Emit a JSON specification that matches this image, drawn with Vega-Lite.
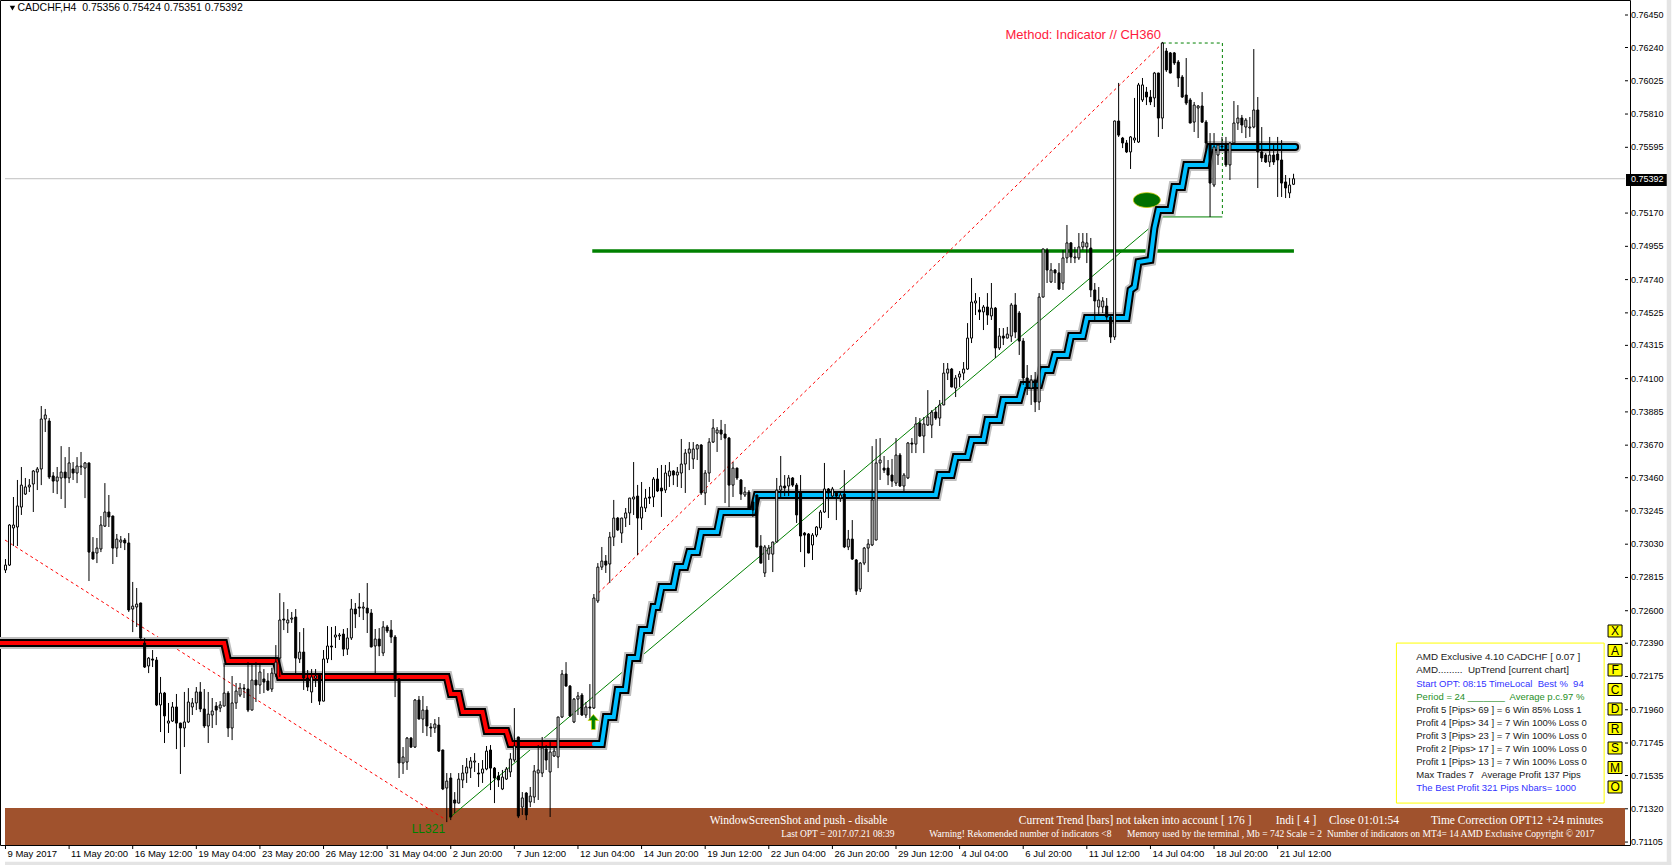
{
"$schema":"https://vega.github.io/schema/vega-lite/v6.json",
"width":1630,"height":845,
"autosize":{"type":"none"},
"padding":{"left":0,"top":0,"right":45,"bottom":20},
"background":"#ffffff",
"config":{"view":{"stroke":"#000000","strokeWidth":1},"font":"Liberation Sans"},
"data":{"values":[{}]},
"datasets":{
"candles":[
{"i":0,"o":0.72863,"h":0.72934,"l":0.72844,"c":0.72895},
{"i":1,"o":0.72895,"h":0.73160,"l":0.72889,"c":0.73154},
{"i":2,"o":0.73135,"h":0.73335,"l":0.73018,"c":0.73154},
{"i":3,"o":0.73141,"h":0.73445,"l":0.73018,"c":0.73277},
{"i":4,"o":0.73270,"h":0.73529,"l":0.73219,"c":0.73412},
{"i":5,"o":0.73354,"h":0.73458,"l":0.73348,"c":0.73400},
{"i":6,"o":0.73400,"h":0.73451,"l":0.73367,"c":0.73412},
{"i":7,"o":0.73419,"h":0.73509,"l":0.73238,"c":0.73503},
{"i":8,"o":0.73496,"h":0.73529,"l":0.73380,"c":0.73516},
{"i":9,"o":0.73516,"h":0.73923,"l":0.73412,"c":0.73839},
{"i":10,"o":0.73839,"h":0.73904,"l":0.73755,"c":0.73865},
{"i":11,"o":0.73826,"h":0.73845,"l":0.73451,"c":0.73464},
{"i":12,"o":0.73471,"h":0.73496,"l":0.73361,"c":0.73438},
{"i":13,"o":0.73438,"h":0.73529,"l":0.73354,"c":0.73464},
{"i":14,"o":0.73458,"h":0.73664,"l":0.73322,"c":0.73496},
{"i":15,"o":0.73496,"h":0.73593,"l":0.73264,"c":0.73458},
{"i":16,"o":0.73458,"h":0.73658,"l":0.73425,"c":0.73555},
{"i":17,"o":0.73516,"h":0.73561,"l":0.73445,"c":0.73490},
{"i":18,"o":0.73490,"h":0.73593,"l":0.73425,"c":0.73535},
{"i":19,"o":0.73529,"h":0.73626,"l":0.73477,"c":0.73535},
{"i":20,"o":0.73522,"h":0.73561,"l":0.73328,"c":0.73555},
{"i":21,"o":0.73555,"h":0.73557,"l":0.72792,"c":0.72979},
{"i":22,"o":0.72979,"h":0.73076,"l":0.72932,"c":0.72934},
{"i":23,"o":0.72973,"h":0.73070,"l":0.72908,"c":0.73005},
{"i":24,"o":0.72999,"h":0.73212,"l":0.72979,"c":0.73154},
{"i":25,"o":0.73147,"h":0.73425,"l":0.73141,"c":0.73238},
{"i":26,"o":0.73238,"h":0.73348,"l":0.73141,"c":0.73206},
{"i":27,"o":0.73212,"h":0.73215,"l":0.72902,"c":0.73005},
{"i":28,"o":0.73005,"h":0.73096,"l":0.72947,"c":0.73063},
{"i":29,"o":0.73044,"h":0.73083,"l":0.73005,"c":0.73057},
{"i":30,"o":0.73057,"h":0.73070,"l":0.72992,"c":0.73038},
{"i":31,"o":0.73038,"h":0.73102,"l":0.72592,"c":0.72605},
{"i":32,"o":0.72611,"h":0.72786,"l":0.72462,"c":0.72630},
{"i":33,"o":0.72624,"h":0.72747,"l":0.72495,"c":0.72643},
{"i":34,"o":0.72650,"h":0.72652,"l":0.72417,"c":0.72424},
{"i":35,"o":0.72391,"h":0.72424,"l":0.72230,"c":0.72236},
{"i":36,"o":0.72243,"h":0.72301,"l":0.72197,"c":0.72294},
{"i":37,"o":0.72288,"h":0.72346,"l":0.72236,"c":0.72281},
{"i":38,"o":0.72281,"h":0.72301,"l":0.71984,"c":0.71991},
{"i":39,"o":0.71991,"h":0.72172,"l":0.71816,"c":0.72068},
{"i":40,"o":0.72068,"h":0.72075,"l":0.71745,"c":0.71920},
{"i":41,"o":0.71874,"h":0.72004,"l":0.71810,"c":0.71887},
{"i":42,"o":0.71887,"h":0.72010,"l":0.71881,"c":0.71978},
{"i":43,"o":0.71978,"h":0.72062,"l":0.71706,"c":0.71874},
{"i":44,"o":0.71874,"h":0.71876,"l":0.71545,"c":0.71842},
{"i":45,"o":0.71842,"h":0.72075,"l":0.71719,"c":0.71881},
{"i":46,"o":0.71881,"h":0.72100,"l":0.71874,"c":0.72010},
{"i":47,"o":0.71978,"h":0.72036,"l":0.71926,"c":0.72004},
{"i":48,"o":0.72004,"h":0.72107,"l":0.71958,"c":0.72075},
{"i":49,"o":0.72075,"h":0.72139,"l":0.71945,"c":0.71965},
{"i":50,"o":0.71965,"h":0.72094,"l":0.71842,"c":0.71855},
{"i":51,"o":0.71855,"h":0.72075,"l":0.71745,"c":0.71932},
{"i":52,"o":0.71926,"h":0.72036,"l":0.71842,"c":0.71952},
{"i":53,"o":0.71984,"h":0.72010,"l":0.71861,"c":0.71958},
{"i":54,"o":0.71971,"h":0.72016,"l":0.71945,"c":0.71991},
{"i":55,"o":0.71984,"h":0.72262,"l":0.71982,"c":0.72068},
{"i":56,"o":0.72068,"h":0.72081,"l":0.71784,"c":0.71842},
{"i":57,"o":0.71842,"h":0.72178,"l":0.71764,"c":0.72004},
{"i":58,"o":0.72004,"h":0.72133,"l":0.71965,"c":0.72081},
{"i":59,"o":0.72055,"h":0.72133,"l":0.72042,"c":0.72100},
{"i":60,"o":0.72100,"h":0.72126,"l":0.72036,"c":0.72094},
{"i":61,"o":0.72094,"h":0.72268,"l":0.71945,"c":0.71958},
{"i":62,"o":0.71958,"h":0.72262,"l":0.71956,"c":0.72152},
{"i":63,"o":0.72152,"h":0.72268,"l":0.72010,"c":0.72120},
{"i":64,"o":0.72120,"h":0.72249,"l":0.72062,"c":0.72204},
{"i":65,"o":0.72159,"h":0.72223,"l":0.72068,"c":0.72139},
{"i":66,"o":0.72146,"h":0.72197,"l":0.72081,"c":0.72088},
{"i":67,"o":0.72094,"h":0.72230,"l":0.72075,"c":0.72197},
{"i":68,"o":0.72191,"h":0.72378,"l":0.72172,"c":0.72268},
{"i":69,"o":0.72294,"h":0.72714,"l":0.72172,"c":0.72540},
{"i":70,"o":0.72546,"h":0.72656,"l":0.72475,"c":0.72540},
{"i":71,"o":0.72521,"h":0.72611,"l":0.72456,"c":0.72540},
{"i":72,"o":0.72546,"h":0.72592,"l":0.72521,"c":0.72553},
{"i":73,"o":0.72559,"h":0.72611,"l":0.72197,"c":0.72294},
{"i":74,"o":0.72288,"h":0.72462,"l":0.72262,"c":0.72333},
{"i":75,"o":0.72333,"h":0.72488,"l":0.72088,"c":0.72165},
{"i":76,"o":0.72165,"h":0.72217,"l":0.72081,"c":0.72107},
{"i":77,"o":0.72075,"h":0.72223,"l":0.72004,"c":0.72172},
{"i":78,"o":0.72165,"h":0.72223,"l":0.72107,"c":0.72178},
{"i":79,"o":0.72184,"h":0.72197,"l":0.71991,"c":0.72016},
{"i":80,"o":0.72016,"h":0.72346,"l":0.72014,"c":0.72288},
{"i":81,"o":0.72288,"h":0.72501,"l":0.72262,"c":0.72372},
{"i":82,"o":0.72372,"h":0.72495,"l":0.72281,"c":0.72366},
{"i":83,"o":0.72430,"h":0.72501,"l":0.72359,"c":0.72443},
{"i":84,"o":0.72437,"h":0.72456,"l":0.72411,"c":0.72443},
{"i":85,"o":0.72449,"h":0.72482,"l":0.72307,"c":0.72352},
{"i":86,"o":0.72352,"h":0.72488,"l":0.72314,"c":0.72424},
{"i":87,"o":0.72424,"h":0.72676,"l":0.72411,"c":0.72611},
{"i":88,"o":0.72611,"h":0.72650,"l":0.72488,"c":0.72579},
{"i":89,"o":0.72624,"h":0.72714,"l":0.72559,"c":0.72617},
{"i":90,"o":0.72617,"h":0.72656,"l":0.72540,"c":0.72624},
{"i":91,"o":0.72617,"h":0.72779,"l":0.72456,"c":0.72585},
{"i":92,"o":0.72585,"h":0.72611,"l":0.72363,"c":0.72366},
{"i":93,"o":0.72372,"h":0.72482,"l":0.72197,"c":0.72417},
{"i":94,"o":0.72417,"h":0.72488,"l":0.72307,"c":0.72372},
{"i":95,"o":0.72327,"h":0.72533,"l":0.72307,"c":0.72495},
{"i":96,"o":0.72495,"h":0.72508,"l":0.72456,"c":0.72469},
{"i":97,"o":0.72475,"h":0.72540,"l":0.72391,"c":0.72430},
{"i":98,"o":0.72430,"h":0.72443,"l":0.72042,"c":0.72159},
{"i":99,"o":0.72159,"h":0.72161,"l":0.71519,"c":0.71616},
{"i":100,"o":0.71616,"h":0.71719,"l":0.71545,"c":0.71655},
{"i":101,"o":0.71622,"h":0.71784,"l":0.71571,"c":0.71777},
{"i":102,"o":0.71777,"h":0.71784,"l":0.71713,"c":0.71719},
{"i":103,"o":0.71719,"h":0.72029,"l":0.71713,"c":0.72023},
{"i":104,"o":0.72023,"h":0.72049,"l":0.71898,"c":0.71900},
{"i":105,"o":0.71900,"h":0.72049,"l":0.71810,"c":0.71958},
{"i":106,"o":0.71958,"h":0.71984,"l":0.71790,"c":0.71855},
{"i":107,"o":0.71848,"h":0.71874,"l":0.71784,"c":0.71842},
{"i":108,"o":0.71842,"h":0.71900,"l":0.71810,"c":0.71868},
{"i":109,"o":0.71861,"h":0.71913,"l":0.71687,"c":0.71693},
{"i":110,"o":0.71700,"h":0.71702,"l":0.71441,"c":0.71448},
{"i":111,"o":0.71454,"h":0.71551,"l":0.71234,"c":0.71499},
{"i":112,"o":0.71519,"h":0.71551,"l":0.71247,"c":0.71267},
{"i":113,"o":0.71377,"h":0.71428,"l":0.71293,"c":0.71357},
{"i":114,"o":0.71357,"h":0.71551,"l":0.71355,"c":0.71512},
{"i":115,"o":0.71506,"h":0.71603,"l":0.71454,"c":0.71551},
{"i":116,"o":0.71551,"h":0.71648,"l":0.71487,"c":0.71590},
{"i":117,"o":0.71583,"h":0.71655,"l":0.71519,"c":0.71629},
{"i":118,"o":0.71622,"h":0.71680,"l":0.71558,"c":0.71629},
{"i":119,"o":0.71551,"h":0.71616,"l":0.71461,"c":0.71545},
{"i":120,"o":0.71551,"h":0.71635,"l":0.71487,"c":0.71577},
{"i":121,"o":0.71577,"h":0.71726,"l":0.71569,"c":0.71693},
{"i":122,"o":0.71700,"h":0.71732,"l":0.71441,"c":0.71583},
{"i":123,"o":0.71583,"h":0.71590,"l":0.71357,"c":0.71519},
{"i":124,"o":0.71532,"h":0.71558,"l":0.71461,"c":0.71506},
{"i":125,"o":0.71448,"h":0.71571,"l":0.71441,"c":0.71525},
{"i":126,"o":0.71512,"h":0.71590,"l":0.71506,"c":0.71577},
{"i":127,"o":0.71558,"h":0.71680,"l":0.71525,"c":0.71642},
{"i":128,"o":0.71635,"h":0.71971,"l":0.71622,"c":0.71726},
{"i":129,"o":0.71784,"h":0.71786,"l":0.71260,"c":0.71273},
{"i":130,"o":0.71331,"h":0.71428,"l":0.71280,"c":0.71390},
{"i":131,"o":0.71422,"h":0.71428,"l":0.71247,"c":0.71280},
{"i":132,"o":0.71364,"h":0.71461,"l":0.71331,"c":0.71402},
{"i":133,"o":0.71396,"h":0.71603,"l":0.71357,"c":0.71564},
{"i":134,"o":0.71551,"h":0.71732,"l":0.71377,"c":0.71571},
{"i":135,"o":0.71551,"h":0.71784,"l":0.71525,"c":0.71713},
{"i":136,"o":0.71706,"h":0.71732,"l":0.71571,"c":0.71635},
{"i":137,"o":0.71558,"h":0.71751,"l":0.71267,"c":0.71687},
{"i":138,"o":0.71661,"h":0.71719,"l":0.71655,"c":0.71693},
{"i":139,"o":0.71655,"h":0.71915,"l":0.71583,"c":0.71913},
{"i":140,"o":0.71913,"h":0.72217,"l":0.71907,"c":0.72191},
{"i":141,"o":0.72191,"h":0.72268,"l":0.72111,"c":0.72113},
{"i":142,"o":0.72113,"h":0.72120,"l":0.71913,"c":0.71920},
{"i":143,"o":0.71881,"h":0.72036,"l":0.71874,"c":0.72029},
{"i":144,"o":0.72029,"h":0.72075,"l":0.71926,"c":0.72049},
{"i":145,"o":0.72055,"h":0.72068,"l":0.71920,"c":0.71926},
{"i":146,"o":0.71926,"h":0.72010,"l":0.71907,"c":0.71978},
{"i":147,"o":0.71978,"h":0.72126,"l":0.71894,"c":0.71971},
{"i":148,"o":0.71971,"h":0.72708,"l":0.71965,"c":0.72682},
{"i":149,"o":0.72663,"h":0.72908,"l":0.72650,"c":0.72882},
{"i":150,"o":0.72882,"h":0.73012,"l":0.72863,"c":0.72921},
{"i":151,"o":0.72921,"h":0.72960,"l":0.72844,"c":0.72895},
{"i":152,"o":0.72902,"h":0.73109,"l":0.72779,"c":0.73076},
{"i":153,"o":0.73076,"h":0.73316,"l":0.73018,"c":0.73199},
{"i":154,"o":0.73199,"h":0.73206,"l":0.73115,"c":0.73122},
{"i":155,"o":0.73102,"h":0.73201,"l":0.73038,"c":0.73199},
{"i":156,"o":0.73199,"h":0.73264,"l":0.73141,"c":0.73232},
{"i":157,"o":0.73232,"h":0.73330,"l":0.73154,"c":0.73328},
{"i":158,"o":0.73322,"h":0.73561,"l":0.73219,"c":0.73335},
{"i":159,"o":0.73341,"h":0.73413,"l":0.72960,"c":0.73199},
{"i":160,"o":0.73199,"h":0.73432,"l":0.73122,"c":0.73270},
{"i":161,"o":0.73264,"h":0.73387,"l":0.73238,"c":0.73328},
{"i":162,"o":0.73335,"h":0.73400,"l":0.73290,"c":0.73328},
{"i":163,"o":0.73335,"h":0.73464,"l":0.73270,"c":0.73451},
{"i":164,"o":0.73451,"h":0.73522,"l":0.73367,"c":0.73374},
{"i":165,"o":0.73393,"h":0.73542,"l":0.73206,"c":0.73374},
{"i":166,"o":0.73380,"h":0.73542,"l":0.73361,"c":0.73490},
{"i":167,"o":0.73471,"h":0.73561,"l":0.73400,"c":0.73503},
{"i":168,"o":0.73503,"h":0.73509,"l":0.73412,"c":0.73477},
{"i":169,"o":0.73477,"h":0.73529,"l":0.73400,"c":0.73496},
{"i":170,"o":0.73490,"h":0.73710,"l":0.73393,"c":0.73548},
{"i":171,"o":0.73548,"h":0.73645,"l":0.73361,"c":0.73619},
{"i":172,"o":0.73619,"h":0.73690,"l":0.73509,"c":0.73645},
{"i":173,"o":0.73581,"h":0.73690,"l":0.73516,"c":0.73645},
{"i":174,"o":0.73645,"h":0.73677,"l":0.73574,"c":0.73671},
{"i":175,"o":0.73671,"h":0.73677,"l":0.73348,"c":0.73361},
{"i":176,"o":0.73361,"h":0.73509,"l":0.73283,"c":0.73490},
{"i":177,"o":0.73490,"h":0.73716,"l":0.73432,"c":0.73690},
{"i":178,"o":0.73690,"h":0.73839,"l":0.73684,"c":0.73781},
{"i":179,"o":0.73748,"h":0.73787,"l":0.73626,"c":0.73768},
{"i":180,"o":0.73768,"h":0.73833,"l":0.73703,"c":0.73742},
{"i":181,"o":0.73742,"h":0.73807,"l":0.73296,"c":0.73716},
{"i":182,"o":0.73716,"h":0.73723,"l":0.73270,"c":0.73412},
{"i":183,"o":0.73412,"h":0.73561,"l":0.73335,"c":0.73522},
{"i":184,"o":0.73522,"h":0.73524,"l":0.73445,"c":0.73458},
{"i":185,"o":0.73445,"h":0.73451,"l":0.73316,"c":0.73354},
{"i":186,"o":0.73348,"h":0.73400,"l":0.73335,"c":0.73367},
{"i":187,"o":0.73367,"h":0.73380,"l":0.73251,"c":0.73264},
{"i":188,"o":0.73303,"h":0.73316,"l":0.73206,"c":0.73251},
{"i":189,"o":0.73348,"h":0.73350,"l":0.73010,"c":0.73012},
{"i":190,"o":0.73018,"h":0.73089,"l":0.72906,"c":0.72908},
{"i":191,"o":0.72844,"h":0.73025,"l":0.72818,"c":0.73012},
{"i":192,"o":0.72966,"h":0.73025,"l":0.72928,"c":0.73005},
{"i":193,"o":0.72966,"h":0.73046,"l":0.72850,"c":0.73044},
{"i":194,"o":0.73044,"h":0.73458,"l":0.73042,"c":0.73380},
{"i":195,"o":0.73380,"h":0.73600,"l":0.73335,"c":0.73406},
{"i":196,"o":0.73406,"h":0.73477,"l":0.73341,"c":0.73393},
{"i":197,"o":0.73406,"h":0.73477,"l":0.73341,"c":0.73458},
{"i":198,"o":0.73458,"h":0.73464,"l":0.73400,"c":0.73412},
{"i":199,"o":0.73412,"h":0.73425,"l":0.73167,"c":0.73219},
{"i":200,"o":0.73367,"h":0.73477,"l":0.72979,"c":0.73083},
{"i":201,"o":0.73102,"h":0.73109,"l":0.72882,"c":0.73089},
{"i":202,"o":0.73096,"h":0.73102,"l":0.72971,"c":0.72973},
{"i":203,"o":0.73025,"h":0.73102,"l":0.72928,"c":0.73089},
{"i":204,"o":0.73089,"h":0.73147,"l":0.73076,"c":0.73141},
{"i":205,"o":0.73135,"h":0.73251,"l":0.73122,"c":0.73238},
{"i":206,"o":0.73238,"h":0.73555,"l":0.73232,"c":0.73387},
{"i":207,"o":0.73387,"h":0.73393,"l":0.73199,"c":0.73361},
{"i":208,"o":0.73341,"h":0.73400,"l":0.73328,"c":0.73387},
{"i":209,"o":0.73361,"h":0.73367,"l":0.73186,"c":0.73341},
{"i":210,"o":0.73328,"h":0.73361,"l":0.73303,"c":0.73348},
{"i":211,"o":0.73354,"h":0.73509,"l":0.73005,"c":0.73012},
{"i":212,"o":0.73012,"h":0.73122,"l":0.72992,"c":0.73063},
{"i":213,"o":0.73063,"h":0.73186,"l":0.72928,"c":0.72934},
{"i":214,"o":0.72928,"h":0.72934,"l":0.72702,"c":0.72727},
{"i":215,"o":0.72740,"h":0.72915,"l":0.72721,"c":0.72908},
{"i":216,"o":0.72908,"h":0.73012,"l":0.72895,"c":0.73005},
{"i":217,"o":0.73005,"h":0.73063,"l":0.72850,"c":0.73031},
{"i":218,"o":0.73025,"h":0.73664,"l":0.73018,"c":0.73316},
{"i":219,"o":0.73057,"h":0.73710,"l":0.73055,"c":0.73555},
{"i":220,"o":0.73555,"h":0.73716,"l":0.73445,"c":0.73574},
{"i":221,"o":0.73522,"h":0.73600,"l":0.73490,"c":0.73509},
{"i":222,"o":0.73522,"h":0.73574,"l":0.73412,"c":0.73477},
{"i":223,"o":0.73477,"h":0.73581,"l":0.73400,"c":0.73438},
{"i":224,"o":0.73425,"h":0.73716,"l":0.73406,"c":0.73606},
{"i":225,"o":0.73606,"h":0.73619,"l":0.73400,"c":0.73406},
{"i":226,"o":0.73406,"h":0.73490,"l":0.73361,"c":0.73477},
{"i":227,"o":0.73458,"h":0.73690,"l":0.73451,"c":0.73684},
{"i":228,"o":0.73684,"h":0.73716,"l":0.73619,"c":0.73677},
{"i":229,"o":0.73677,"h":0.73852,"l":0.73619,"c":0.73807},
{"i":230,"o":0.73813,"h":0.73845,"l":0.73723,"c":0.73729},
{"i":231,"o":0.73729,"h":0.73852,"l":0.73619,"c":0.73807},
{"i":232,"o":0.73800,"h":0.74026,"l":0.73794,"c":0.73852},
{"i":233,"o":0.73800,"h":0.73897,"l":0.73716,"c":0.73884},
{"i":234,"o":0.73884,"h":0.73917,"l":0.73833,"c":0.73845},
{"i":235,"o":0.73845,"h":0.73962,"l":0.73794,"c":0.73930},
{"i":236,"o":0.73930,"h":0.74201,"l":0.73928,"c":0.74136},
{"i":237,"o":0.74136,"h":0.74201,"l":0.74091,"c":0.74162},
{"i":238,"o":0.74162,"h":0.74169,"l":0.74044,"c":0.74046},
{"i":239,"o":0.74039,"h":0.74123,"l":0.73981,"c":0.74104},
{"i":240,"o":0.74110,"h":0.74149,"l":0.74046,"c":0.74130},
{"i":241,"o":0.74136,"h":0.74207,"l":0.74091,"c":0.74162},
{"i":242,"o":0.74162,"h":0.74459,"l":0.74156,"c":0.74362},
{"i":243,"o":0.74362,"h":0.74750,"l":0.74330,"c":0.74595},
{"i":244,"o":0.74589,"h":0.74653,"l":0.74511,"c":0.74602},
{"i":245,"o":0.74544,"h":0.74627,"l":0.74479,"c":0.74531},
{"i":246,"o":0.74531,"h":0.74576,"l":0.74414,"c":0.74563},
{"i":247,"o":0.74563,"h":0.74653,"l":0.74447,"c":0.74511},
{"i":248,"o":0.74505,"h":0.74718,"l":0.74479,"c":0.74556},
{"i":249,"o":0.74556,"h":0.74563,"l":0.74233,"c":0.74298},
{"i":250,"o":0.74298,"h":0.74427,"l":0.74285,"c":0.74375},
{"i":251,"o":0.74375,"h":0.74427,"l":0.74317,"c":0.74362},
{"i":252,"o":0.74362,"h":0.74434,"l":0.74360,"c":0.74388},
{"i":253,"o":0.74375,"h":0.74589,"l":0.74337,"c":0.74576},
{"i":254,"o":0.74576,"h":0.74653,"l":0.74362,"c":0.74401},
{"i":255,"o":0.74524,"h":0.74537,"l":0.74253,"c":0.74343},
{"i":256,"o":0.74343,"h":0.74362,"l":0.74059,"c":0.74104},
{"i":257,"o":0.74104,"h":0.74188,"l":0.73994,"c":0.74039},
{"i":258,"o":0.74039,"h":0.74123,"l":0.73930,"c":0.74091},
{"i":259,"o":0.74091,"h":0.74143,"l":0.73884,"c":0.73949},
{"i":260,"o":0.73949,"h":0.74653,"l":0.73897,"c":0.74627},
{"i":261,"o":0.74627,"h":0.74940,"l":0.74625,"c":0.74938},
{"i":262,"o":0.74931,"h":0.74944,"l":0.74718,"c":0.74802},
{"i":263,"o":0.74725,"h":0.74847,"l":0.74718,"c":0.74802},
{"i":264,"o":0.74802,"h":0.74808,"l":0.74718,"c":0.74783},
{"i":265,"o":0.74783,"h":0.74847,"l":0.74673,"c":0.74679},
{"i":266,"o":0.74718,"h":0.74931,"l":0.74673,"c":0.74880},
{"i":267,"o":0.74880,"h":0.75093,"l":0.74847,"c":0.74977},
{"i":268,"o":0.74977,"h":0.74983,"l":0.74847,"c":0.74886},
{"i":269,"o":0.74880,"h":0.74951,"l":0.74847,"c":0.74886},
{"i":270,"o":0.74880,"h":0.75041,"l":0.74867,"c":0.74951},
{"i":271,"o":0.74951,"h":0.75041,"l":0.74931,"c":0.74983},
{"i":272,"o":0.74951,"h":0.75041,"l":0.74847,"c":0.74977},
{"i":273,"o":0.74944,"h":0.75009,"l":0.74627,"c":0.74673},
{"i":274,"o":0.74673,"h":0.74718,"l":0.74479,"c":0.74602},
{"i":275,"o":0.74563,"h":0.74692,"l":0.74511,"c":0.74608},
{"i":276,"o":0.74563,"h":0.74627,"l":0.74524,"c":0.74602},
{"i":277,"o":0.74569,"h":0.74621,"l":0.74479,"c":0.74498},
{"i":278,"o":0.74498,"h":0.74511,"l":0.74330,"c":0.74369},
{"i":279,"o":0.74369,"h":0.75768,"l":0.74350,"c":0.75765},
{"i":280,"o":0.75765,"h":0.76011,"l":0.75662,"c":0.75674},
{"i":281,"o":0.75655,"h":0.75662,"l":0.75590,"c":0.75623},
{"i":282,"o":0.75623,"h":0.75642,"l":0.75558,"c":0.75565},
{"i":283,"o":0.75565,"h":0.75668,"l":0.75455,"c":0.75662},
{"i":284,"o":0.75642,"h":0.75914,"l":0.75623,"c":0.75655},
{"i":285,"o":0.75629,"h":0.76011,"l":0.75623,"c":0.75998},
{"i":286,"o":0.75901,"h":0.76043,"l":0.75888,"c":0.75998},
{"i":287,"o":0.75952,"h":0.75985,"l":0.75868,"c":0.75920},
{"i":288,"o":0.75920,"h":0.75965,"l":0.75868,"c":0.75888},
{"i":289,"o":0.75914,"h":0.76082,"l":0.75855,"c":0.76075},
{"i":290,"o":0.76075,"h":0.76077,"l":0.75662,"c":0.75784},
{"i":291,"o":0.75784,"h":0.76276,"l":0.75713,"c":0.76269},
{"i":292,"o":0.76217,"h":0.76237,"l":0.76082,"c":0.76095},
{"i":293,"o":0.76205,"h":0.76211,"l":0.76073,"c":0.76075},
{"i":294,"o":0.76205,"h":0.76211,"l":0.76127,"c":0.76140},
{"i":295,"o":0.76146,"h":0.76159,"l":0.75985,"c":0.76043},
{"i":296,"o":0.76049,"h":0.76062,"l":0.75914,"c":0.75920},
{"i":297,"o":0.75933,"h":0.76172,"l":0.75868,"c":0.75881},
{"i":298,"o":0.75901,"h":0.75914,"l":0.75750,"c":0.75752},
{"i":299,"o":0.75758,"h":0.75888,"l":0.75694,"c":0.75868},
{"i":300,"o":0.75849,"h":0.75868,"l":0.75655,"c":0.75862},
{"i":301,"o":0.75862,"h":0.75952,"l":0.75752,"c":0.75758},
{"i":302,"o":0.75758,"h":0.75771,"l":0.75578,"c":0.75623},
{"i":303,"o":0.75610,"h":0.75687,"l":0.75145,"c":0.75364},
{"i":304,"o":0.75351,"h":0.75687,"l":0.75338,"c":0.75597},
{"i":305,"o":0.75545,"h":0.75623,"l":0.75481,"c":0.75610},
{"i":306,"o":0.75603,"h":0.75662,"l":0.75578,"c":0.75597},
{"i":307,"o":0.75610,"h":0.75662,"l":0.75468,"c":0.75481},
{"i":308,"o":0.75481,"h":0.75629,"l":0.75384,"c":0.75623},
{"i":309,"o":0.75623,"h":0.75894,"l":0.75610,"c":0.75752},
{"i":310,"o":0.75752,"h":0.75868,"l":0.75707,"c":0.75784},
{"i":311,"o":0.75784,"h":0.75804,"l":0.75687,"c":0.75739},
{"i":312,"o":0.75726,"h":0.75784,"l":0.75655,"c":0.75771},
{"i":313,"o":0.75720,"h":0.75791,"l":0.75662,"c":0.75726},
{"i":314,"o":0.75726,"h":0.76230,"l":0.75718,"c":0.75836},
{"i":315,"o":0.75836,"h":0.75920,"l":0.75332,"c":0.75565},
{"i":316,"o":0.75565,"h":0.75726,"l":0.75500,"c":0.75526},
{"i":317,"o":0.75545,"h":0.75558,"l":0.75494,"c":0.75500},
{"i":318,"o":0.75500,"h":0.75662,"l":0.75468,"c":0.75545},
{"i":319,"o":0.75545,"h":0.75623,"l":0.75481,"c":0.75500},
{"i":320,"o":0.75552,"h":0.75662,"l":0.75274,"c":0.75513},
{"i":321,"o":0.75513,"h":0.75642,"l":0.75274,"c":0.75364},
{"i":322,"o":0.75371,"h":0.75416,"l":0.75267,"c":0.75332},
{"i":323,"o":0.75300,"h":0.75397,"l":0.75267,"c":0.75351},
{"i":324,"o":0.75356,"h":0.75424,"l":0.75351,"c":0.75392}
],
"band":[
{"i":-2,"p":0.72391,"s":"r"},{"i":55,"p":0.72391,"s":"r"},{"i":56,"p":0.72275,"s":"r"},{"i":68,"p":0.72275,"s":"r"},{"i":69,"p":0.72172,"s":"r"},{"i":111,"p":0.72172,"s":"r"},{"i":112,"p":0.72062,"s":"r"},{"i":114,"p":0.72062,"s":"r"},{"i":115,"p":0.71945,"s":"r"},{"i":120,"p":0.71945,"s":"r"},{"i":121,"p":0.71823,"s":"r"},{"i":126,"p":0.71823,"s":"r"},{"i":127,"p":0.71739,"s":"r"},{"i":148,"p":0.71739,"s":"r"},
{"i":148,"p":0.71739,"s":"b"},{"i":150,"p":0.71739,"s":"b"},{"i":151,"p":0.71913,"s":"b"},{"i":153,"p":0.71913,"s":"b"},{"i":154,"p":0.72088,"s":"b"},{"i":156,"p":0.72088,"s":"b"},{"i":157,"p":0.72294,"s":"b"},{"i":159,"p":0.72294,"s":"b"},{"i":160,"p":0.72475,"s":"b"},{"i":162,"p":0.72475,"s":"b"},{"i":163,"p":0.72624,"s":"b"},{"i":164,"p":0.72624,"s":"b"},{"i":165,"p":0.72753,"s":"b"},{"i":168,"p":0.72753,"s":"b"},{"i":169,"p":0.72883,"s":"b"},{"i":171,"p":0.72883,"s":"b"},{"i":172,"p":0.72979,"s":"b"},{"i":174,"p":0.72979,"s":"b"},{"i":175,"p":0.73109,"s":"b"},{"i":179,"p":0.73109,"s":"b"},{"i":180,"p":0.73238,"s":"b"},{"i":188,"p":0.73238,"s":"b"},{"i":189,"p":0.73348,"s":"b"},{"i":234,"p":0.73348,"s":"b"},{"i":235,"p":0.73477,"s":"b"},{"i":238,"p":0.73477,"s":"b"},{"i":239,"p":0.73593,"s":"b"},{"i":242,"p":0.73593,"s":"b"},{"i":243,"p":0.73703,"s":"b"},{"i":246,"p":0.73703,"s":"b"},{"i":247,"p":0.73833,"s":"b"},{"i":250,"p":0.73833,"s":"b"},{"i":251,"p":0.73962,"s":"b"},{"i":255,"p":0.73962,"s":"b"},{"i":256,"p":0.74059,"s":"b"},{"i":260,"p":0.74059,"s":"b"},{"i":261,"p":0.74156,"s":"b"},{"i":263,"p":0.74156,"s":"b"},{"i":264,"p":0.74253,"s":"b"},{"i":267,"p":0.74253,"s":"b"},{"i":268,"p":0.74375,"s":"b"},{"i":271,"p":0.74375,"s":"b"},{"i":272,"p":0.74492,"s":"b"},{"i":282,"p":0.74492,"s":"b"},{"i":283,"p":0.74673,"s":"b"},{"i":284,"p":0.74692,"s":"b"},{"i":285,"p":0.74854,"s":"b"},{"i":288,"p":0.74867,"s":"b"},{"i":289,"p":0.75073,"s":"b"},{"i":290,"p":0.75190,"s":"b"},{"i":293,"p":0.75190,"s":"b"},{"i":294,"p":0.75338,"s":"b"},{"i":296,"p":0.75338,"s":"b"},{"i":297,"p":0.75481,"s":"b"},{"i":302,"p":0.75481,"s":"b"},{"i":303,"p":0.75597,"s":"b"},{"i":324.4,"p":0.75597,"s":"b"}
],
"lines":[
{"k":"cp","i":-0.125,"p":0.75392,"i2":407.375,"p2":0.75392},
{"k":"rd","i":-0.125,"p":0.73057,"i2":110.7,"p2":0.71250},
{"k":"rd","i":149.1,"p":0.72714,"i2":291.1,"p2":0.76269},
{"k":"g","i":111.6,"p":0.71260,"i2":291.1,"p2":0.75145},
{"k":"g","i":291.1,"p":0.75145,"i2":306.1,"p2":0.75145},
{"k":"gd","i":291.1,"p":0.76269,"i2":306.1,"p2":0.76269},
{"k":"gd","i":306.1,"p":0.76269,"i2":306.1,"p2":0.75145},
{"k":"gt","i":147.6,"p":0.74925,"i2":324.1,"p2":0.74925}
],
"yt":[{"v":0.7645,"t":"0.76450"},{"v":0.7624,"t":"0.76240"},{"v":0.76025,"t":"0.76025"},{"v":0.7581,"t":"0.75810"},{"v":0.75595,"t":"0.75595"},{"v":0.7517,"t":"0.75170"},{"v":0.74955,"t":"0.74955"},{"v":0.7474,"t":"0.74740"},{"v":0.74525,"t":"0.74525"},{"v":0.74315,"t":"0.74315"},{"v":0.741,"t":"0.74100"},{"v":0.73885,"t":"0.73885"},{"v":0.7367,"t":"0.73670"},{"v":0.7346,"t":"0.73460"},{"v":0.73245,"t":"0.73245"},{"v":0.7303,"t":"0.73030"},{"v":0.72815,"t":"0.72815"},{"v":0.726,"t":"0.72600"},{"v":0.7239,"t":"0.72390"},{"v":0.72175,"t":"0.72175"},{"v":0.7196,"t":"0.71960"},{"v":0.71745,"t":"0.71745"},{"v":0.71535,"t":"0.71535"},{"v":0.7132,"t":"0.71320"},{"v":0.71105,"t":"0.71105"}],
"xt":[{"i":0,"t":"9 May 2017"},{"i":16,"t":"11 May 20:00"},{"i":32,"t":"16 May 12:00"},{"i":48,"t":"19 May 04:00"},{"i":64,"t":"23 May 20:00"},{"i":80,"t":"26 May 12:00"},{"i":96,"t":"31 May 04:00"},{"i":112,"t":"2 Jun 20:00"},{"i":128,"t":"7 Jun 12:00"},{"i":144,"t":"12 Jun 04:00"},{"i":160,"t":"14 Jun 20:00"},{"i":176,"t":"19 Jun 12:00"},{"i":192,"t":"22 Jun 04:00"},{"i":208,"t":"26 Jun 20:00"},{"i":224,"t":"29 Jun 12:00"},{"i":240,"t":"4 Jul 04:00"},{"i":256,"t":"6 Jul 20:00"},{"i":272,"t":"11 Jul 12:00"},{"i":288,"t":"14 Jul 04:00"},{"i":304,"t":"18 Jul 20:00"},{"i":320,"t":"21 Jul 12:00"}]
},
"layer":[
{"mark":{"type":"rect","fill":"#a0522d"},
 "encoding":{"x":{"datum":-0.125,"type":"quantitative","scale":{"domain":[-0.125,407.375],"nice":false,"zero":false},"axis":null},
 "x2":{"datum":407.375},
 "y":{"datum":0.71325,"type":"quantitative","scale":{"domain":[0.71086,0.76547],"nice":false,"zero":false},"axis":null},
 "y2":{"datum":0.71086}}},
{"mark":{"type":"rect","fill":"#e4e4e4"},
 "encoding":{"x":{"datum":417.875,"type":"quantitative","scale":{"domain":[-0.125,407.375],"nice":false,"zero":false},"axis":null},
 "x2":{"datum":419},
 "y":{"datum":0.76547,"type":"quantitative","scale":{"domain":[0.71086,0.76547],"nice":false,"zero":false},"axis":null},
 "y2":{"datum":0.7093}}},
{"mark":{"type":"rect","fill":"#e4e4e4"},
 "encoding":{"x":{"datum":-0.125,"type":"quantitative","scale":{"domain":[-0.125,407.375],"nice":false,"zero":false},"axis":null},
 "x2":{"datum":419},
 "y":{"datum":0.70977,"type":"quantitative","scale":{"domain":[0.71086,0.76547],"nice":false,"zero":false},"axis":null},
 "y2":{"datum":0.7093}}},
{"data":{"name":"yt"},
 "mark":{"type":"rule","color":"#000000","strokeWidth":1},
 "encoding":{"x":{"datum":407.375,"type":"quantitative","scale":{"domain":[-0.125,407.375],"nice":false,"zero":false},"axis":null},
 "x2":{"datum":408.125},
 "y":{"field":"v","type":"quantitative","scale":{"domain":[0.71086,0.76547],"nice":false,"zero":false},"axis":null}}},
{"data":{"name":"yt"},
 "mark":{"type":"text","align":"left","baseline":"middle","font":"Liberation Sans","fontSize":9,"color":"#000000"},
 "encoding":{"x":{"datum":408.875,"type":"quantitative","scale":{"domain":[-0.125,407.375],"nice":false,"zero":false},"axis":null},
 "y":{"field":"v","type":"quantitative","scale":{"domain":[0.71086,0.76547],"nice":false,"zero":false},"axis":null},
 "text":{"field":"t"}}},
{"data":{"name":"xt"},
 "mark":{"type":"rule","color":"#000000","strokeWidth":1},
 "encoding":{"x":{"field":"i","type":"quantitative","scale":{"domain":[-0.125,407.375],"nice":false,"zero":false},"axis":null},
 "y":{"datum":0.71086,"type":"quantitative","scale":{"domain":[0.71086,0.76547],"nice":false,"zero":false},"axis":null},
 "y2":{"datum":0.7106}}},
{"data":{"name":"xt"},
 "mark":{"type":"text","align":"left","baseline":"middle","dx":2,"font":"Liberation Sans","fontSize":9.5,"color":"#000000"},
 "encoding":{"x":{"field":"i","type":"quantitative","scale":{"domain":[-0.125,407.375],"nice":false,"zero":false},"axis":null},
 "y":{"datum":0.71028,"type":"quantitative","scale":{"domain":[0.71086,0.76547],"nice":false,"zero":false},"axis":null},
 "text":{"field":"t"}}},
{"data":{"name":"lines"},"transform":[{"filter":"datum.k == 'cp'"}],
 "mark":{"type":"rule","color":"#c0c0c0","strokeWidth":1},
 "encoding":{"x":{"field":"i","type":"quantitative","scale":{"domain":[-0.125,407.375],"nice":false,"zero":false},"axis":null},"x2":{"field":"i2"},
 "y":{"field":"p","type":"quantitative","scale":{"domain":[0.71086,0.76547],"nice":false,"zero":false},"axis":null},"y2":{"field":"p2"}}},
{"data":{"name":"lines"},"transform":[{"filter":"datum.k == 'gt'"}],
 "mark":{"type":"rule","color":"#008000","strokeWidth":3.5},
 "encoding":{"x":{"field":"i","type":"quantitative","scale":{"domain":[-0.125,407.375],"nice":false,"zero":false},"axis":null},"x2":{"field":"i2"},
 "y":{"field":"p","type":"quantitative","scale":{"domain":[0.71086,0.76547],"nice":false,"zero":false},"axis":null},"y2":{"field":"p2"}}},
{"data":{"name":"lines"},"transform":[{"filter":"datum.k == 'rd'"}],
 "mark":{"type":"rule","color":"#ff0000","strokeWidth":1,"strokeDash":[3,3]},
 "encoding":{"x":{"field":"i","type":"quantitative","scale":{"domain":[-0.125,407.375],"nice":false,"zero":false},"axis":null},"x2":{"field":"i2"},
 "y":{"field":"p","type":"quantitative","scale":{"domain":[0.71086,0.76547],"nice":false,"zero":false},"axis":null},"y2":{"field":"p2"}}},
{"data":{"name":"lines"},"transform":[{"filter":"datum.k == 'g'"}],
 "mark":{"type":"rule","color":"#008000","strokeWidth":1},
 "encoding":{"x":{"field":"i","type":"quantitative","scale":{"domain":[-0.125,407.375],"nice":false,"zero":false},"axis":null},"x2":{"field":"i2"},
 "y":{"field":"p","type":"quantitative","scale":{"domain":[0.71086,0.76547],"nice":false,"zero":false},"axis":null},"y2":{"field":"p2"}}},
{"data":{"name":"lines"},"transform":[{"filter":"datum.k == 'gd'"}],
 "mark":{"type":"rule","color":"#008000","strokeWidth":1,"strokeDash":[3,3]},
 "encoding":{"x":{"field":"i","type":"quantitative","scale":{"domain":[-0.125,407.375],"nice":false,"zero":false},"axis":null},"x2":{"field":"i2"},
 "y":{"field":"p","type":"quantitative","scale":{"domain":[0.71086,0.76547],"nice":false,"zero":false},"axis":null},"y2":{"field":"p2"}}},
{"data":{"name":"band"},
 "mark":{"type":"line","color":"#c0c0c0","strokeWidth":12,"strokeJoin":"miter","strokeCap":"round"},
 "encoding":{"x":{"field":"i","type":"quantitative","scale":{"domain":[-0.125,407.375],"nice":false,"zero":false},"axis":null},
 "y":{"field":"p","type":"quantitative","scale":{"domain":[0.71086,0.76547],"nice":false,"zero":false},"axis":null}}},
{"data":{"name":"band"},
 "mark":{"type":"line","color":"#000000","strokeWidth":8,"strokeJoin":"miter","strokeCap":"round"},
 "encoding":{"x":{"field":"i","type":"quantitative","scale":{"domain":[-0.125,407.375],"nice":false,"zero":false},"axis":null},
 "y":{"field":"p","type":"quantitative","scale":{"domain":[0.71086,0.76547],"nice":false,"zero":false},"axis":null}}},
{"data":{"name":"band"},
 "mark":{"type":"line","strokeWidth":4,"strokeJoin":"miter","strokeCap":"round"},
 "encoding":{"x":{"field":"i","type":"quantitative","scale":{"domain":[-0.125,407.375],"nice":false,"zero":false},"axis":null},
 "y":{"field":"p","type":"quantitative","scale":{"domain":[0.71086,0.76547],"nice":false,"zero":false},"axis":null},
 "color":{"field":"s","type":"nominal","scale":{"domain":["r","b"],"range":["#ff0000","#00bfff"]},"legend":null}}},
{"data":{"name":"candles"},
 "mark":{"type":"rule","color":"#000000","strokeWidth":1},
 "encoding":{"x":{"field":"i","type":"quantitative","scale":{"domain":[-0.125,407.375],"nice":false,"zero":false},"axis":null},
 "y":{"field":"l","type":"quantitative","scale":{"domain":[0.71086,0.76547],"nice":false,"zero":false},"axis":null},
 "y2":{"field":"h"}}},
{"data":{"name":"candles"},
 "mark":{"type":"bar","size":2,"stroke":"#000000","strokeWidth":1},
 "encoding":{"x":{"field":"i","type":"quantitative","scale":{"domain":[-0.125,407.375],"nice":false,"zero":false},"axis":null},
 "y":{"field":"o","type":"quantitative","scale":{"domain":[0.71086,0.76547],"nice":false,"zero":false},"axis":null},
 "y2":{"field":"c"},
 "fill":{"condition":{"test":"datum.c >= datum.o","value":"#ffffff"},"value":"#000000"}}},
{"mark":{"type":"point","filled":true,"shape":"M-1,0A1,0.55,0,1,1,1,0A1,0.55,0,1,1,-1,0Z","size":729,"fill":"#007000","stroke":"#c8c800","strokeWidth":0.8,"opacity":1},
 "encoding":{"x":{"datum":287.1,"type":"quantitative","scale":{"domain":[-0.125,407.375],"nice":false,"zero":false},"axis":null},
 "y":{"datum":0.75254,"type":"quantitative","scale":{"domain":[0.71086,0.76547],"nice":false,"zero":false},"axis":null}}},
{"mark":{"type":"point","filled":true,"shape":"M0,-1L0.7,-0.2L0.25,-0.2L0.25,1L-0.25,1L-0.25,-0.2L-0.7,-0.2Z","size":225,"fill":"#008000","stroke":"#d8d800","strokeWidth":0.7,"opacity":1},
 "encoding":{"x":{"datum":147.875,"type":"quantitative","scale":{"domain":[-0.125,407.375],"nice":false,"zero":false},"axis":null},
 "y":{"datum":0.71881,"type":"quantitative","scale":{"domain":[0.71086,0.76547],"nice":false,"zero":false},"axis":null}}},
{"mark":{"type":"point","filled":true,"shape":"triangle-down","size":30,"fill":"#000000","opacity":1},
 "encoding":{"x":{"datum":1.75,"type":"quantitative","scale":{"domain":[-0.125,407.375],"nice":false,"zero":false},"axis":null},
 "y":{"datum":0.76495,"type":"quantitative","scale":{"domain":[0.71086,0.76547],"nice":false,"zero":false},"axis":null}}},
{"mark":{"type":"text","align":"left","baseline":"middle","font":"Liberation Sans","fontSize":10.5,"color":"#000000","text":"CADCHF,H4\u00a0 0.75356 0.75424 0.75351 0.75392"},
 "encoding":{"x":{"datum":3.0,"type":"quantitative","scale":{"domain":[-0.125,407.375],"nice":false,"zero":false},"axis":null},
 "y":{"datum":0.76495,"type":"quantitative","scale":{"domain":[0.71086,0.76547],"nice":false,"zero":false},"axis":null}}},
{"mark":{"type":"text","align":"right","baseline":"middle","font":"Liberation Sans","fontSize":13,"color":"#ff1a3c","text":"Method: Indicator // CH360"},
 "encoding":{"x":{"datum":290.625,"type":"quantitative","scale":{"domain":[-0.125,407.375],"nice":false,"zero":false},"axis":null},
 "y":{"datum":0.76321,"type":"quantitative","scale":{"domain":[0.71086,0.76547],"nice":false,"zero":false},"axis":null}}},
{"mark":{"type":"text","align":"center","baseline":"middle","font":"Liberation Sans","fontSize":12,"color":"#008000","text":"LL321"},
 "encoding":{"x":{"datum":106.375,"type":"quantitative","scale":{"domain":[-0.125,407.375],"nice":false,"zero":false},"axis":null},
 "y":{"datum":0.71189,"type":"quantitative","scale":{"domain":[0.71086,0.76547],"nice":false,"zero":false},"axis":null}}},
{"mark":{"type":"rect","fill":"#ffffff","stroke":"#ffff00","strokeWidth":1},
 "encoding":{"x":{"datum":349.875,"type":"quantitative","scale":{"domain":[-0.125,407.375],"nice":false,"zero":false},"axis":null},
 "x2":{"datum":402.125},
 "y":{"datum":0.72391,"type":"quantitative","scale":{"domain":[0.71086,0.76547],"nice":false,"zero":false},"axis":null},
 "y2":{"datum":0.71357}}},
{"mark":{"type":"text","align":"left","baseline":"top","font":"Liberation Sans","fontSize":9.8,"lineHeight":13.1,"color":"#1a1a1a","text":["AMD Exclusive 4.10 CADCHF [ 0.07 ]","AMD.........\u00a0 UpTrend [current chart]"]},
 "encoding":{"x":{"datum":354.875,"type":"quantitative","scale":{"domain":[-0.125,407.375],"nice":false,"zero":false},"axis":null},
 "y":{"datum":0.72336,"type":"quantitative","scale":{"domain":[0.71086,0.76547],"nice":false,"zero":false},"axis":null}}},
{"mark":{"type":"text","align":"left","baseline":"top","font":"Liberation Sans","fontSize":9.5,"color":"#3232ff","text":"Start OPT: 08:15 TimeLocal\u00a0 Best %\u00a0 94"},
 "encoding":{"x":{"datum":354.875,"type":"quantitative","scale":{"domain":[-0.125,407.375],"nice":false,"zero":false},"axis":null},
 "y":{"datum":0.72159,"type":"quantitative","scale":{"domain":[0.71086,0.76547],"nice":false,"zero":false},"axis":null}}},
{"mark":{"type":"text","align":"left","baseline":"top","font":"Liberation Sans","fontSize":9.5,"color":"#1f8f1f","text":"Period = 24 _______\u00a0 Average p.c.97 %"},
 "encoding":{"x":{"datum":354.875,"type":"quantitative","scale":{"domain":[-0.125,407.375],"nice":false,"zero":false},"axis":null},
 "y":{"datum":0.72075,"type":"quantitative","scale":{"domain":[0.71086,0.76547],"nice":false,"zero":false},"axis":null}}},
{"mark":{"type":"text","align":"left","baseline":"top","font":"Liberation Sans","fontSize":9.5,"lineHeight":13.1,"color":"#1a1a1a","text":["Profit 5 [Pips> 69 ] = 6 Win 85% Loss 1","Profit 4 [Pips> 34 ] = 7 Win 100% Loss 0","Profit 3 [Pips> 23 ] = 7 Win 100% Loss 0","Profit 2 [Pips> 17 ] = 7 Win 100% Loss 0","Profit 1 [Pips> 13 ] = 7 Win 100% Loss 0","Max Trades 7\u00a0\u00a0 Average Profit 137 Pips"]},
 "encoding":{"x":{"datum":354.875,"type":"quantitative","scale":{"domain":[-0.125,407.375],"nice":false,"zero":false},"axis":null},
 "y":{"datum":0.71991,"type":"quantitative","scale":{"domain":[0.71086,0.76547],"nice":false,"zero":false},"axis":null}}},
{"mark":{"type":"text","align":"left","baseline":"top","font":"Liberation Sans","fontSize":9.5,"color":"#3232ff","text":"The Best Profit 321 Pips Nbars= 1000"},
 "encoding":{"x":{"datum":354.875,"type":"quantitative","scale":{"domain":[-0.125,407.375],"nice":false,"zero":false},"axis":null},
 "y":{"datum":0.71487,"type":"quantitative","scale":{"domain":[0.71086,0.76547],"nice":false,"zero":false},"axis":null}}},
{"mark":{"type":"point","filled":true,"size":40000,"fill":"#ffff00","stroke":"#000000","strokeWidth":1,"opacity":1,
  "shape":"M-0.07,-0.84L0.07,-0.84L0.07,-0.72L-0.07,-0.72Z M-0.07,-0.645L0.07,-0.645L0.07,-0.525L-0.07,-0.525Z M-0.07,-0.45L0.07,-0.45L0.07,-0.33L-0.07,-0.33Z M-0.07,-0.255L0.07,-0.255L0.07,-0.135L-0.07,-0.135Z M-0.07,-0.06L0.07,-0.06L0.07,0.06L-0.07,0.06Z M-0.07,0.135L0.07,0.135L0.07,0.255L-0.07,0.255Z M-0.07,0.33L0.07,0.33L0.07,0.45L-0.07,0.45Z M-0.07,0.525L0.07,0.525L0.07,0.645L-0.07,0.645Z M-0.07,0.72L0.07,0.72L0.07,0.84L-0.07,0.84Z"},
 "encoding":{"x":{"datum":404.875,"type":"quantitative","scale":{"domain":[-0.125,407.375],"nice":false,"zero":false},"axis":null},
 "y":{"datum":0.71965,"type":"quantitative","scale":{"domain":[0.71086,0.76547],"nice":false,"zero":false},"axis":null}}},
{"mark":{"type":"text","align":"center","baseline":"middle","font":"Liberation Sans","fontSize":12,"lineHeight":19.5,"color":"#000000","text":["X","A","F","C","D","R","S","M","O"]},
 "encoding":{"x":{"datum":404.875,"type":"quantitative","scale":{"domain":[-0.125,407.375],"nice":false,"zero":false},"axis":null},
 "y":{"datum":0.72469,"type":"quantitative","scale":{"domain":[0.71086,0.76547],"nice":false,"zero":false},"axis":null}}},
{"mark":{"type":"text","align":"left","baseline":"middle","font":"Liberation Serif","fontSize":11.5,"color":"#ffffff","text":"WindowScreenShot and push - disable"},
 "encoding":{"x":{"datum":177.125,"type":"quantitative","scale":{"domain":[-0.125,407.375],"nice":false,"zero":false},"axis":null},
 "y":{"datum":0.71241,"type":"quantitative","scale":{"domain":[0.71086,0.76547],"nice":false,"zero":false},"axis":null}}},
{"mark":{"type":"text","align":"left","baseline":"middle","font":"Liberation Serif","fontSize":11.5,"color":"#ffffff","text":"Current Trend [bars] not taken into account [ 176 ]"},
 "encoding":{"x":{"datum":254.875,"type":"quantitative","scale":{"domain":[-0.125,407.375],"nice":false,"zero":false},"axis":null},
 "y":{"datum":0.71241,"type":"quantitative","scale":{"domain":[0.71086,0.76547],"nice":false,"zero":false},"axis":null}}},
{"mark":{"type":"text","align":"left","baseline":"middle","font":"Liberation Serif","fontSize":11.5,"color":"#ffffff","text":"Indi [ 4 ]"},
 "encoding":{"x":{"datum":319.5,"type":"quantitative","scale":{"domain":[-0.125,407.375],"nice":false,"zero":false},"axis":null},
 "y":{"datum":0.71241,"type":"quantitative","scale":{"domain":[0.71086,0.76547],"nice":false,"zero":false},"axis":null}}},
{"mark":{"type":"text","align":"left","baseline":"middle","font":"Liberation Serif","fontSize":11.5,"color":"#ffffff","text":"Close 01:01:54"},
 "encoding":{"x":{"datum":332.9,"type":"quantitative","scale":{"domain":[-0.125,407.375],"nice":false,"zero":false},"axis":null},
 "y":{"datum":0.71241,"type":"quantitative","scale":{"domain":[0.71086,0.76547],"nice":false,"zero":false},"axis":null}}},
{"mark":{"type":"text","align":"left","baseline":"middle","font":"Liberation Serif","fontSize":11.5,"color":"#ffffff","text":"Time Correction OPT12 +24 minutes"},
 "encoding":{"x":{"datum":358.6,"type":"quantitative","scale":{"domain":[-0.125,407.375],"nice":false,"zero":false},"axis":null},
 "y":{"datum":0.71241,"type":"quantitative","scale":{"domain":[0.71086,0.76547],"nice":false,"zero":false},"axis":null}}},
{"mark":{"type":"text","align":"left","baseline":"middle","font":"Liberation Serif","fontSize":9.5,"color":"#ffffff","text":"Last OPT = 2017.07.21 08:39"},
 "encoding":{"x":{"datum":195.125,"type":"quantitative","scale":{"domain":[-0.125,407.375],"nice":false,"zero":false},"axis":null},
 "y":{"datum":0.71157,"type":"quantitative","scale":{"domain":[0.71086,0.76547],"nice":false,"zero":false},"axis":null}}},
{"mark":{"type":"text","align":"left","baseline":"middle","font":"Liberation Serif","fontSize":9.5,"color":"#ffffff","text":"Warning! Rekomended number of indicators <8"},
 "encoding":{"x":{"datum":232.375,"type":"quantitative","scale":{"domain":[-0.125,407.375],"nice":false,"zero":false},"axis":null},
 "y":{"datum":0.71157,"type":"quantitative","scale":{"domain":[0.71086,0.76547],"nice":false,"zero":false},"axis":null}}},
{"mark":{"type":"text","align":"left","baseline":"middle","font":"Liberation Serif","fontSize":9.5,"color":"#ffffff","text":"Memory used by the terminal , Mb = 742   Scale = 2"},
 "encoding":{"x":{"datum":282.125,"type":"quantitative","scale":{"domain":[-0.125,407.375],"nice":false,"zero":false},"axis":null},
 "y":{"datum":0.71157,"type":"quantitative","scale":{"domain":[0.71086,0.76547],"nice":false,"zero":false},"axis":null}}},
{"mark":{"type":"text","align":"left","baseline":"middle","font":"Liberation Serif","fontSize":9.5,"color":"#ffffff","text":"Number of indicators on MT4= 14  AMD Exclusive Copyright © 2017"},
 "encoding":{"x":{"datum":332.4,"type":"quantitative","scale":{"domain":[-0.125,407.375],"nice":false,"zero":false},"axis":null},
 "y":{"datum":0.71157,"type":"quantitative","scale":{"domain":[0.71086,0.76547],"nice":false,"zero":false},"axis":null}}},
{"mark":{"type":"rect","fill":"#000000"},
 "encoding":{"x":{"datum":407.625,"type":"quantitative","scale":{"domain":[-0.125,407.375],"nice":false,"zero":false},"axis":null},
 "x2":{"datum":417.875},
 "y":{"datum":0.75422,"type":"quantitative","scale":{"domain":[0.71086,0.76547],"nice":false,"zero":false},"axis":null},
 "y2":{"datum":0.75345}}},
{"mark":{"type":"text","align":"left","baseline":"middle","font":"Liberation Sans","fontSize":9,"color":"#ffffff","text":"0.75392"},
 "encoding":{"x":{"datum":408.875,"type":"quantitative","scale":{"domain":[-0.125,407.375],"nice":false,"zero":false},"axis":null},
 "y":{"datum":0.75392,"type":"quantitative","scale":{"domain":[0.71086,0.76547],"nice":false,"zero":false},"axis":null}}}
]
}
